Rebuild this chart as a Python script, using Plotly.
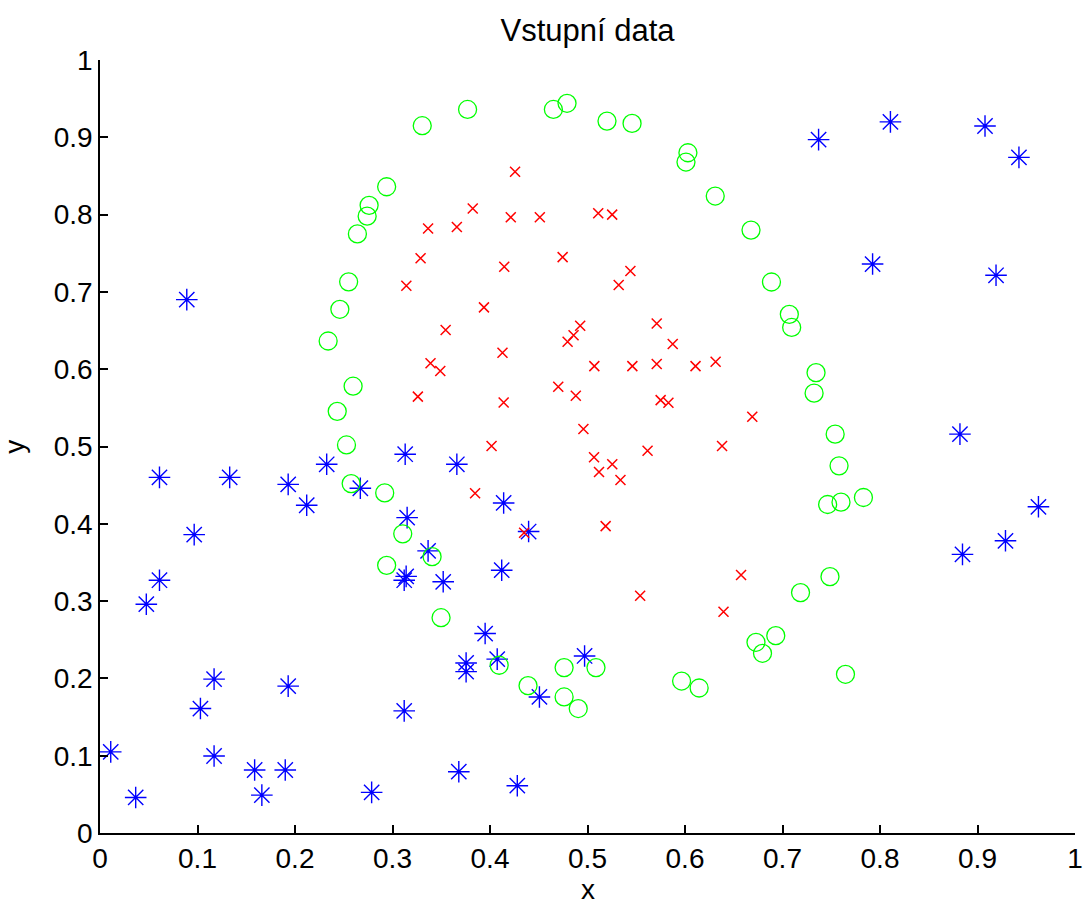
import plotly.graph_objects as go

# Class 1: outer points (blue asterisks)
blue_x = [0.011, 0.0366, 0.0475, 0.061, 0.061, 0.089, 0.0966, 0.103, 0.117, 0.117,
          0.133, 0.1586, 0.166, 0.190, 0.193, 0.193, 0.212, 0.2325, 0.267, 0.2786,
          0.312, 0.313, 0.315, 0.314, 0.312, 0.3365, 0.352, 0.366, 0.368, 0.3755,
          0.3755, 0.395, 0.4074, 0.412, 0.414, 0.428, 0.4396, 0.4507, 0.497, 0.737,
          0.7924, 0.8107, 0.882, 0.8846, 0.9077, 0.919, 0.9287, 0.9425, 0.9625]
blue_y = [0.105, 0.046, 0.296, 0.327, 0.460, 0.690, 0.386, 0.161, 0.199, 0.0996,
          0.460, 0.0815, 0.049, 0.0815, 0.190, 0.451, 0.424, 0.477, 0.446, 0.0526,
          0.158, 0.490, 0.408, 0.332, 0.327, 0.365, 0.325, 0.477, 0.0793, 0.220,
          0.2087, 0.258, 0.225, 0.340, 0.427, 0.0612, 0.390, 0.176, 0.229, 0.897,
          0.736, 0.920, 0.516, 0.3605, 0.9146, 0.7215, 0.378, 0.874, 0.422]

# Class 2: ring points (green circles)
green_x = [0.3305, 0.294, 0.276, 0.274, 0.264, 0.255, 0.246, 0.234, 0.2596, 0.2433,
           0.2528, 0.377, 0.465, 0.479, 0.520, 0.5457, 0.603, 0.601, 0.631, 0.6677,
           0.6887, 0.707, 0.7094, 0.7344, 0.7324, 0.758, 0.754, 0.7463, 0.760, 0.783,
           0.7487, 0.7185, 0.6931, 0.6728, 0.6795, 0.7646, 0.3406, 0.3498, 0.4094, 0.476,
           0.5087, 0.439, 0.476, 0.4905, 0.5965, 0.6145, 0.2576, 0.292, 0.3105, 0.294]
green_y = [0.915, 0.836, 0.812, 0.798, 0.775, 0.713, 0.6775, 0.6365, 0.578, 0.5455,
           0.502, 0.936, 0.936, 0.944, 0.921, 0.918, 0.880, 0.868, 0.824, 0.780,
           0.7128, 0.671, 0.654, 0.5955, 0.569, 0.475, 0.516, 0.425, 0.428, 0.434,
           0.3316, 0.311, 0.2553, 0.2467, 0.2325, 0.2053, 0.3575, 0.2785, 0.217, 0.214,
           0.214, 0.1906, 0.176, 0.161, 0.1966, 0.1876, 0.452, 0.440, 0.387, 0.3463]

# Class 3: inner points (red crosses)
red_x = [0.4257, 0.3823, 0.4213, 0.4511, 0.511, 0.5253, 0.3365, 0.366, 0.4745, 0.4146,
         0.544, 0.532, 0.3938, 0.3545, 0.4925, 0.4857, 0.4796, 0.571, 0.5874, 0.4128,
         0.339, 0.349, 0.507, 0.546, 0.571, 0.6108, 0.6314, 0.470, 0.488, 0.414,
         0.575, 0.583, 0.669, 0.4958, 0.4016, 0.5616, 0.638, 0.3288, 0.3142, 0.326,
         0.5067, 0.5254, 0.5118, 0.5338, 0.3847, 0.435, 0.5186, 0.6575, 0.554, 0.6395]
red_y = [0.8555, 0.808, 0.7965, 0.7965, 0.8017, 0.800, 0.782, 0.784, 0.745, 0.7326,
         0.727, 0.709, 0.680, 0.6507, 0.6563, 0.644, 0.6356, 0.659, 0.6326, 0.6214,
         0.6076, 0.5977, 0.604, 0.604, 0.6067, 0.604, 0.6097, 0.5774, 0.5657, 0.557,
         0.560, 0.5567, 0.5386, 0.5226, 0.5006, 0.4946, 0.5006, 0.7435, 0.708, 0.5645,
         0.486, 0.477, 0.467, 0.4567, 0.4395, 0.3885, 0.397, 0.3338, 0.307, 0.2863]

tick_vals = [0, 0.1, 0.2, 0.3, 0.4, 0.5, 0.6, 0.7, 0.8, 0.9, 1]
tick_text = ["0", "0.1", "0.2", "0.3", "0.4", "0.5", "0.6", "0.7", "0.8", "0.9", "1"]

FONT = "Liberation Sans, Arial, sans-serif"

fig = go.Figure()
fig.add_trace(go.Scatter(
    x=blue_x, y=blue_y, mode="markers",
    marker=dict(symbol="asterisk-open", size=18, color="#0000ff",
                line=dict(color="#0000ff", width=1.4)),
))
fig.add_trace(go.Scatter(
    x=red_x, y=red_y, mode="markers",
    marker=dict(symbol="x-thin-open", size=10, color="#ff0000",
                line=dict(color="#ff0000", width=1.5)),
))
fig.add_trace(go.Scatter(
    x=green_x, y=green_y, mode="markers",
    marker=dict(symbol="circle-open", size=18, color="#00ff00",
                line=dict(color="#00ff00", width=1.3)),
))

axis_common = dict(
    range=[0, 1], tickvals=tick_vals, ticktext=tick_text,
    ticks="inside", ticklen=8, tickwidth=1.5, tickcolor="black",
    showline=True, linecolor="black", linewidth=1.5,
    showgrid=False, zeroline=False, mirror=False,
    tickfont=dict(family=FONT, size=28, color="black"),
    fixedrange=True,
)

fig.update_layout(
    width=1091, height=912,
    margin=dict(l=100, r=8, t=60, b=79),
    paper_bgcolor="white", plot_bgcolor="white",
    showlegend=False,
    title=dict(text="Vstupní data", x=0.5385, xanchor="center", y=0.967, yanchor="middle",
               font=dict(family=FONT, size=31, color="black")),
    xaxis=dict(**axis_common),
    yaxis=dict(**axis_common),
    annotations=[
        dict(text="x", xref="paper", yref="paper", x=0.5, y=-0.073,
             xanchor="center", yanchor="middle", showarrow=False,
             font=dict(family=FONT, size=28, color="black")),
        dict(text="y", xref="paper", yref="paper", x=-0.088, y=0.5,
             xanchor="center", yanchor="middle", showarrow=False, textangle=-90,
             font=dict(family=FONT, size=28, color="black")),
    ],
)

fig.write_html("out.html")
